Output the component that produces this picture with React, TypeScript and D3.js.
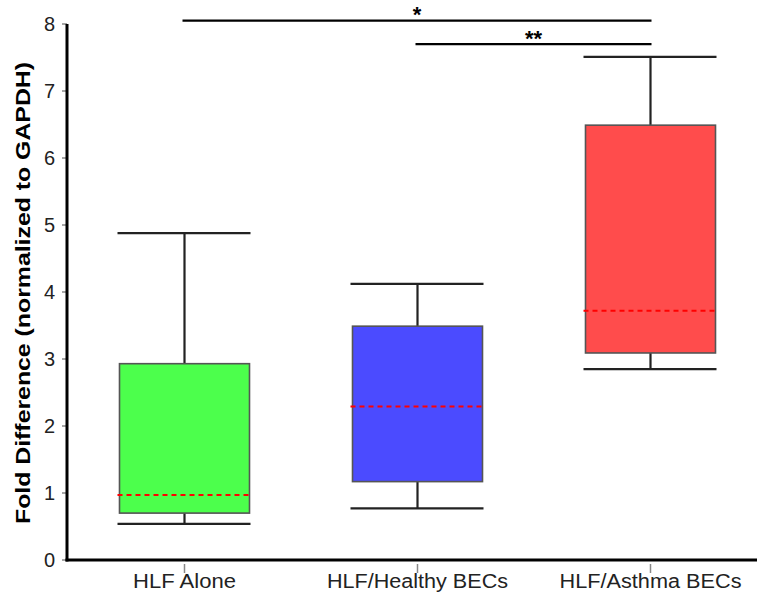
import * as d3 from 'd3';
import React from 'react';

const width = 757;
const height = 594;
const margin = { top: 24, right: 0, bottom: 34, left: 67 };

// box stats
const categories = ['HLF Alone', 'HLF/Healthy BECs', 'HLF/Asthma BECs'];
const whiskerLow = [0.54, 0.77, 2.85];
const q1 = [0.70, 1.17, 3.09];
const median = [0.97, 2.29, 3.72];
const q3 = [2.93, 3.49, 6.49];
const whiskerHigh = [4.88, 4.12, 7.51];
const colors = ['#4cff4c', '#4b4bff', '#ff4c4c'];
const yTicks = [0, 1, 2, 3, 4, 5, 6, 7, 8];

// significance brackets: from category -> to category
const sigFrom = ['HLF Alone', 'HLF/Healthy BECs'];
const sigTo = ['HLF/Asthma BECs', 'HLF/Asthma BECs'];
const sigLabel = ['*', '**'];
const sigLevel = [8.05, 7.7];

const font = '"Liberation Sans", Arial, sans-serif';

// the original figure is a bit stretched, so labels get explicit lengths
const labelLen = [103, 181, 182];

export default function App() {
  const plotBottom = height - margin.bottom;

  const x = d3.scalePoint<string>()
    .domain(categories)
    .range([margin.left + 1, 767])
    .padding(0.5);

  const y = d3.scaleLinear()
    .domain([0, 8])
    .range([plotBottom, margin.top]);

  const boxW = 130;

  return (
    <svg width={width} height={height}
      style={{ position: 'absolute', left: 0, top: 0, background: '#fff' }}>
      {/* y axis title */}
      <text transform={`translate(30,${293}) rotate(-90)`}
        textAnchor="middle" fontFamily={font} fontWeight="bold" fontSize={21}
        textLength={462} lengthAdjust="spacingAndGlyphs"
        fill="#000">Fold Difference (normalized to GAPDH)</text>

      {/* y ticks */}
      {yTicks.map(t => (
        <g key={t}>
          <line x1={margin.left - 5} x2={margin.left} y1={y(t)} y2={y(t)}
            stroke="#888" strokeWidth={1.5} />
          <text x={margin.left - 12} y={y(t)} dy="0.36em" textAnchor="end"
            fontFamily={font} fontSize={20} fill="#222">{t}</text>
        </g>
      ))}

      {/* x ticks */}
      {categories.map((c, i) => (
        <g key={c}>
          <line x1={x(c)} x2={x(c)} y1={plotBottom + 4} y2={plotBottom + 13}
            stroke="#888" strokeWidth={1.5} />
          <text x={x(c)} y={plotBottom + 28} textAnchor="middle"
            textLength={labelLen[i]} lengthAdjust="spacingAndGlyphs"
            fontFamily={font} fontSize={20} fill="#222">{c}</text>
        </g>
      ))}

      {/* boxes */}
      {categories.map((c, i) => {
        const cx = x(c) as number;
        return (
          <g key={c}>
            <line x1={cx} x2={cx} y1={y(whiskerHigh[i])} y2={y(q3[i])}
              stroke="#222" strokeWidth={2.2} />
            <line x1={cx} x2={cx} y1={y(q1[i])} y2={y(whiskerLow[i])}
              stroke="#222" strokeWidth={2.2} />
            <line x1={cx - boxW / 2 - 2} x2={cx + boxW / 2 + 1}
              y1={y(whiskerHigh[i])} y2={y(whiskerHigh[i])}
              stroke="#222" strokeWidth={2.2} />
            <line x1={cx - boxW / 2 - 2} x2={cx + boxW / 2 + 1}
              y1={y(whiskerLow[i])} y2={y(whiskerLow[i])}
              stroke="#222" strokeWidth={2.2} />
            <rect x={cx - boxW / 2} y={y(q3[i])} width={boxW}
              height={y(q1[i]) - y(q3[i])}
              fill={colors[i]} stroke="#555" strokeWidth={1.6} />
            <line x1={cx - boxW / 2 - 2} x2={cx + boxW / 2}
              y1={y(median[i])} y2={y(median[i])}
              stroke="#ff0000" strokeWidth={2} strokeDasharray="5,4" />
          </g>
        );
      })}

      {/* axes */}
      <line x1={margin.left} x2={margin.left} y1={margin.top} y2={plotBottom + 1.5}
        stroke="#000" strokeWidth={3} />
      <line x1={margin.left - 1.5} x2={width} y1={plotBottom} y2={plotBottom}
        stroke="#000" strokeWidth={3} />

      {/* significance brackets */}
      {sigLabel.map((s, i) => {
        const x1 = (x(sigFrom[i]) as number) - 2;
        const x2 = (x(sigTo[i]) as number) + 1;
        const yy = y(sigLevel[i]);
        return (
          <g key={i}>
            <line x1={x1} x2={x2} y1={yy} y2={yy} stroke="#000" strokeWidth={2.2} />
            <text x={(x1 + x2) / 2} y={yy + 1.5} textAnchor="middle"
              fontFamily={font} fontWeight="bold" fontSize={22} fill="#000">{s}</text>
          </g>
        );
      })}
    </svg>
  );
}
